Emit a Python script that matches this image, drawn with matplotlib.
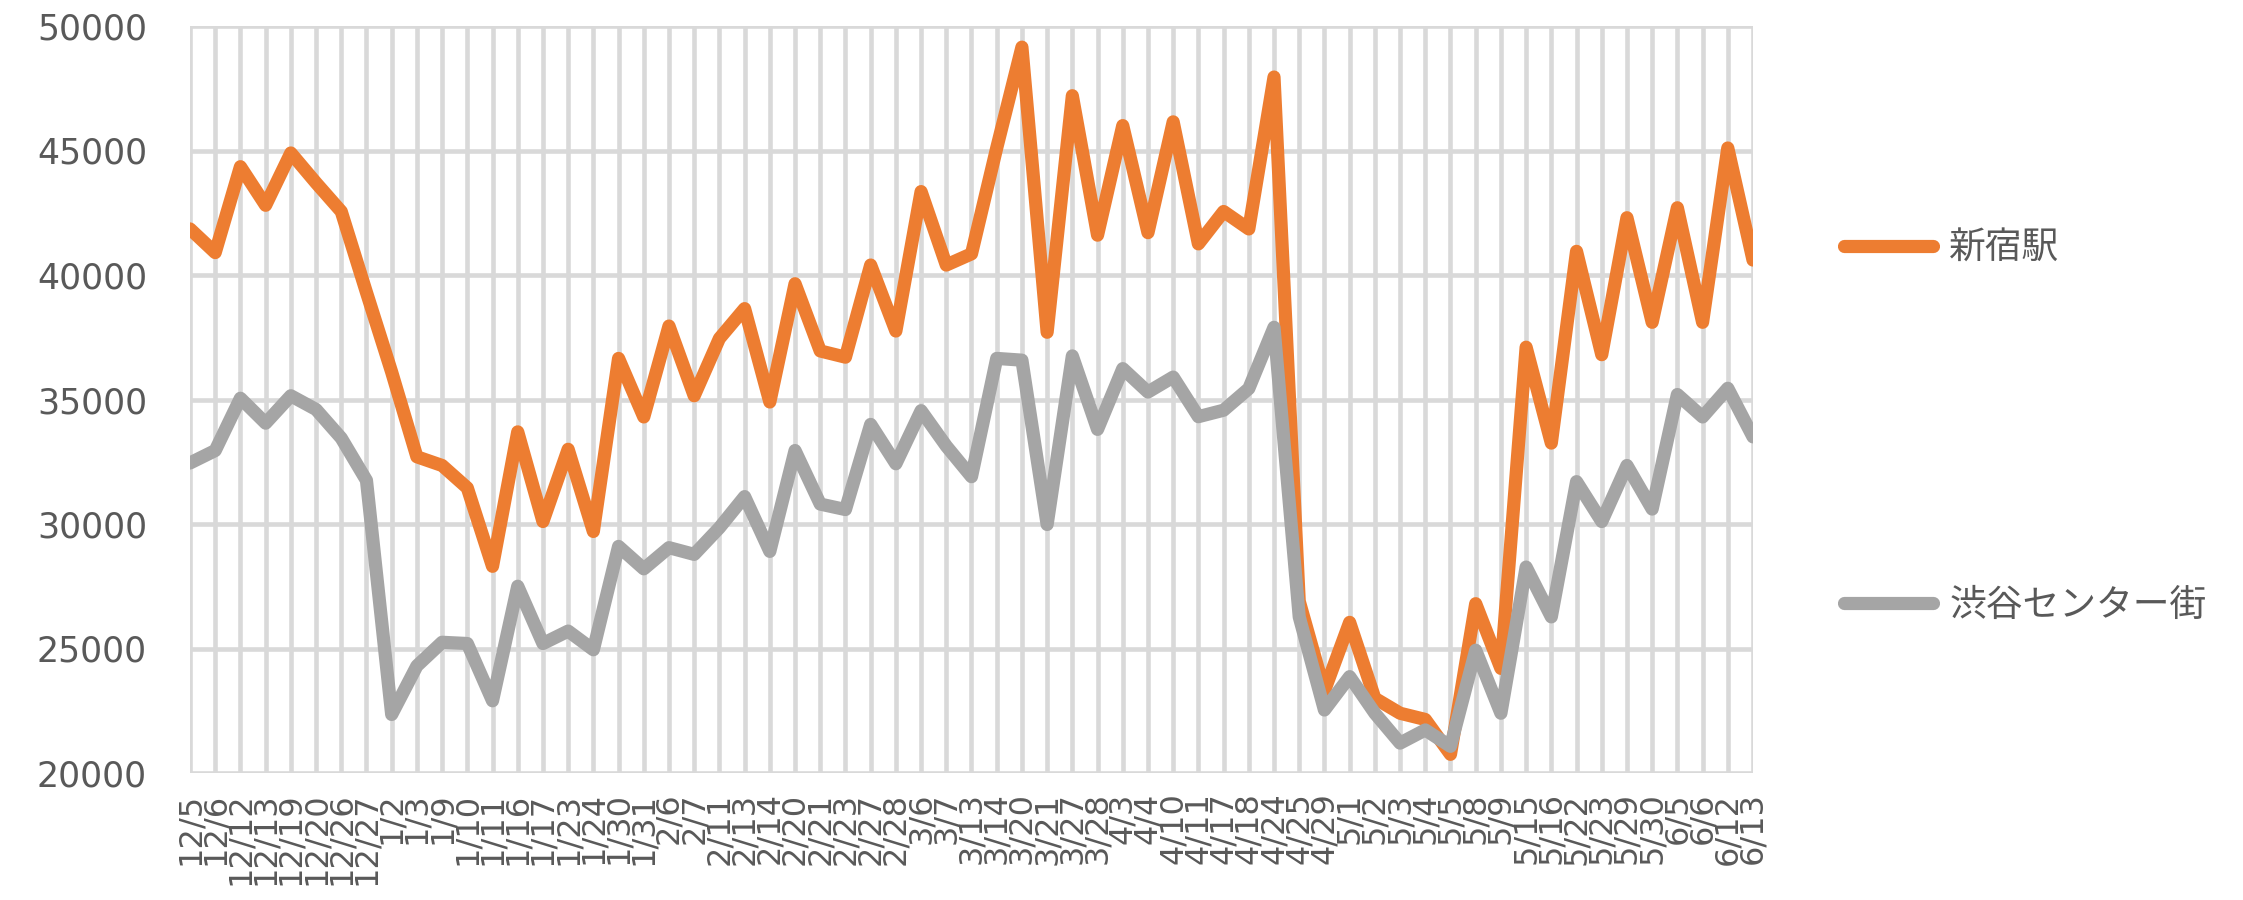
import matplotlib
matplotlib.use("Agg")
import matplotlib.pyplot as plt

# weekend/holiday dates, Dec 2020 - Jun 2021
dates = ["12/5", "12/6", "12/12", "12/13", "12/19", "12/20", "12/26", "12/27",
         "1/2", "1/3", "1/9", "1/10", "1/11", "1/16", "1/17", "1/23", "1/24",
         "1/30", "1/31", "2/6", "2/7", "2/11", "2/13", "2/14", "2/20", "2/21",
         "2/23", "2/27", "2/28", "3/6", "3/7", "3/13", "3/14", "3/20", "3/21",
         "3/27", "3/28", "4/3", "4/4", "4/10", "4/11", "4/17", "4/18", "4/24",
         "4/25", "4/29", "5/1", "5/2", "5/3", "5/4", "5/5", "5/8", "5/9",
         "5/15", "5/16", "5/22", "5/23", "5/29", "5/30", "6/5", "6/6", "6/12",
         "6/13"]

shinjuku = [41850, 40900, 44350, 42800, 44900, 43700, 42550, 39300,
            36100, 32700, 32350, 31450, 28300, 33700, 30100, 33000, 29700,
            36650, 34300, 37950, 35150, 37450, 38650, 34900, 39650, 36950,
            36700, 40400, 37750, 43350, 40400, 40850, 45100, 49150, 37700,
            47200, 41600, 46000, 41700, 46150, 41250, 42550, 41850, 47950,
            26900, 23300, 26050, 23000, 22400, 22150, 20750, 26800, 24200,
            37100, 33250, 40950, 36800, 42300, 38100, 42700, 38100, 45100,
            40600]

shibuya = [32450, 32950, 35050, 34050, 35150, 34600, 33450, 31750,
           22350, 24300, 25250, 25200, 22900, 27500, 25200, 25700, 24950,
           29100, 28200, 29050, 28780, 29850, 31100, 28900, 32950, 30800,
           30580, 34000, 32420, 34550, 33130, 31900, 36650, 36580, 29980,
           36750, 33800, 36240, 35300, 35900, 34310, 34570, 35440, 37900,
           26270, 22530, 23870, 22400, 21200, 21730, 21070, 24930, 22400,
           28270, 26270, 31700, 30100, 32350, 30600, 35200, 34300, 35450,
           33500]

text_col = "#595959"
grid_col = "#D9D9D9"

fig = plt.figure(figsize=(22.43, 9), dpi=100)
ax = fig.add_axes([190 / 2243, 1 - 773 / 900, (1753 - 190) / 2243, (773 - 26) / 900])

x = list(range(len(dates)))
ax.plot(x, shinjuku, color="#ED7D31", lw=9.5, solid_joinstyle="round",
        solid_capstyle="round", label="新宿駅", zorder=3)
ax.plot(x, shibuya, color="#A5A5A5", lw=9.5, solid_joinstyle="round",
        solid_capstyle="round", label="渋谷センター街", zorder=3)

ax.set_xlim(0, len(dates) - 1)
ax.set_ylim(20000, 50000)
ax.set_yticks(range(20000, 50001, 5000))
ax.set_xticks(x)
ax.set_xticklabels(dates, rotation=90)

ax.grid(True, color=grid_col, lw=3.3, zorder=0)
ax.set_axisbelow(True)
for s in ax.spines.values():
    s.set_visible(False)

ax.tick_params(axis="y", length=0, pad=31, labelsize=25, labelcolor=text_col)
ax.tick_params(axis="x", length=0, pad=14, labelsize=23, labelcolor=text_col)

leg = ax.legend(loc="center left", bbox_to_anchor=(1826 / 2243, 1 - 427 / 900),
                bbox_transform=fig.transFigure, frameon=False, borderpad=0,
                handlelength=2.4, handletextpad=0.45, labelspacing=8.65,
                prop={"family": "Noto Sans CJK JP", "size": 26.5})
for t in leg.get_texts():
    t.set_color(text_col)

fig.savefig("out.png", dpi=100)
